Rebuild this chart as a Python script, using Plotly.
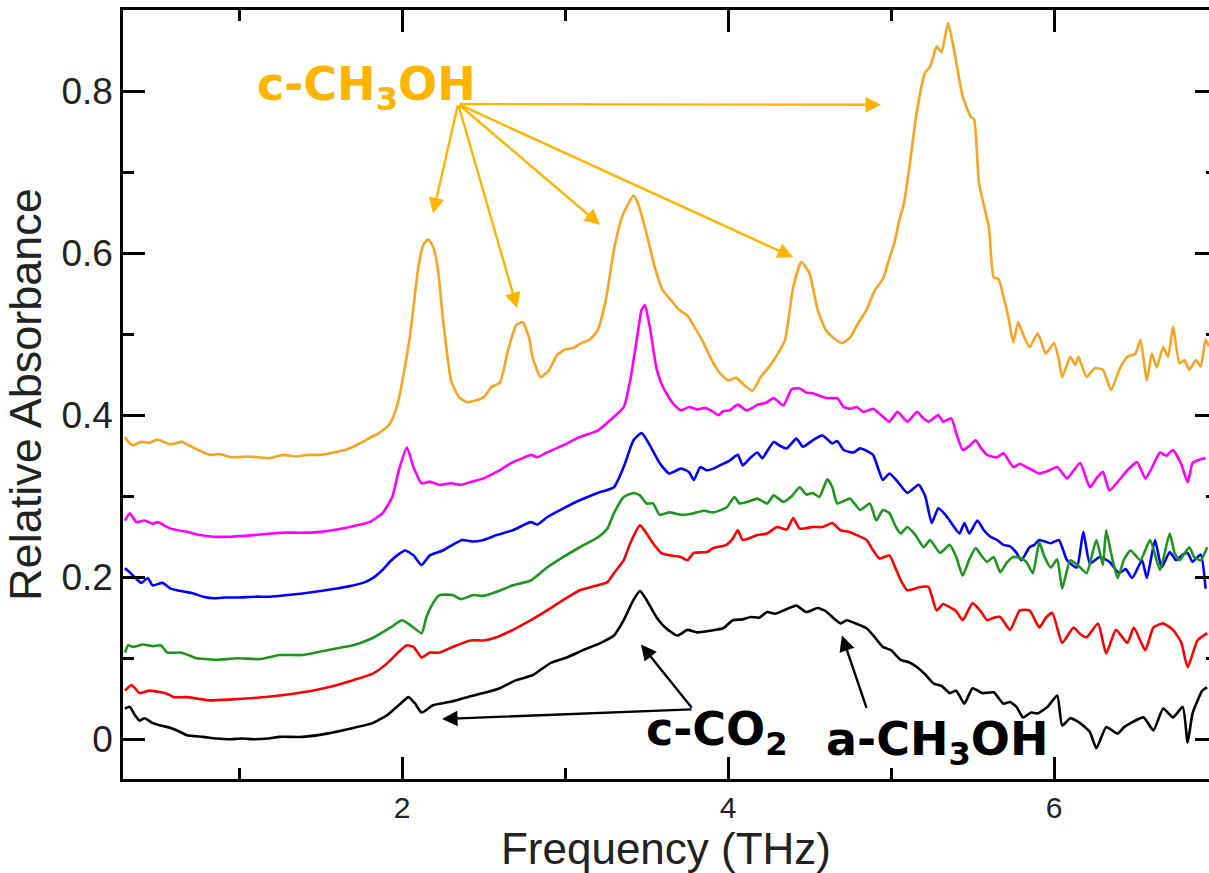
import plotly.graph_objects as go

# ---------------- data ----------------
orange_x = [0.30,0.33,0.35,0.40,0.45,0.50,0.55,0.58,0.65,0.70,0.75,0.82,0.88,0.96,1.05,1.12,1.19,1.27,1.35,1.42,
            1.50,1.58,1.65,1.70,1.75,1.80,1.85,1.88,1.92,1.95,1.98,2.00,2.05,2.10,2.13,2.16,2.19,2.22,2.25,2.28,
            2.30,2.35,2.40,2.45,2.50,2.55,2.60,2.65,2.70,2.74,2.78,2.80,2.85,2.90,2.95,3.00,3.05,3.10,3.15,3.20,
            3.25,3.30,3.35,3.42,3.45,3.50,3.55,3.60,3.65,3.70,3.75,3.80,3.85,3.90,3.95,4.00,4.05,4.10,4.15,4.20,
            4.25,4.30,4.35,4.40,4.45,4.50,4.55,4.60,4.65,4.70,4.75,4.80,4.85,4.90,4.95,5.00,5.02,5.05,5.08,5.11,
            5.16,5.21,5.24,5.28,5.31,5.35,5.39,5.44,5.49,5.51,5.54,5.60,5.63,5.66,5.69,5.72,5.75,5.78,5.80,5.85,
            5.90,5.95,6.00,6.03,6.05,6.10,6.13,6.15,6.20,6.25,6.30,6.35,6.40,6.45,6.50,6.53,6.57,6.60,6.63,6.67,
            6.70,6.73,6.77,6.80,6.83,6.87,6.90,6.93,6.95]
orange_y = [0.373,0.365,0.363,0.367,0.366,0.370,0.366,0.364,0.367,0.362,0.357,0.351,0.352,0.348,0.349,0.348,0.347,0.351,0.349,0.351,
            0.351,0.354,0.357,0.361,0.366,0.372,0.377,0.381,0.388,0.400,0.420,0.440,0.500,0.583,0.610,0.617,0.608,0.580,0.520,0.470,
            0.443,0.422,0.416,0.418,0.422,0.435,0.440,0.480,0.511,0.515,0.495,0.472,0.447,0.455,0.474,0.481,0.483,0.489,0.493,0.505,
            0.542,0.604,0.645,0.671,0.660,0.624,0.583,0.554,0.542,0.530,0.523,0.507,0.489,0.468,0.452,0.443,0.446,0.437,0.430,0.447,
            0.459,0.474,0.493,0.558,0.589,0.575,0.530,0.505,0.495,0.489,0.496,0.514,0.530,0.554,0.568,0.600,0.612,0.640,0.662,0.702,
            0.777,0.823,0.830,0.855,0.848,0.884,0.847,0.793,0.768,0.765,0.686,0.632,0.570,0.568,0.546,0.521,0.490,0.515,0.505,0.484,
            0.501,0.476,0.489,0.468,0.447,0.472,0.462,0.472,0.447,0.458,0.456,0.431,0.456,0.472,0.476,0.493,0.443,0.476,0.459,0.484,
            0.472,0.509,0.464,0.468,0.456,0.468,0.460,0.493,0.485]

magenta_x = [0.30,0.33,0.37,0.42,0.47,0.50,0.58,0.68,0.76,0.84,0.94,1.09,1.20,1.29,1.40,1.50,1.60,1.70,1.80,1.88,
             1.94,1.98,2.03,2.07,2.12,2.17,2.23,2.30,2.36,2.43,2.50,2.58,2.68,2.74,2.79,2.83,2.89,2.99,3.09,3.20,
             3.30,3.36,3.40,3.44,3.47,3.49,3.52,3.56,3.60,3.66,3.71,3.76,3.81,3.86,3.91,3.94,3.97,4.01,4.06,4.11,
             4.15,4.18,4.23,4.28,4.34,4.39,4.44,4.48,4.52,4.56,4.61,4.67,4.71,4.75,4.79,4.83,4.89,4.94,4.99,5.04,
             5.10,5.16,5.20,5.23,5.29,5.32,5.37,5.40,5.44,5.48,5.52,5.55,5.59,5.65,5.69,5.75,5.79,5.83,5.87,5.91,
             5.96,6.02,6.08,6.16,6.22,6.26,6.30,6.34,6.40,6.45,6.51,6.56,6.60,6.65,6.69,6.73,6.78,6.82,6.85,6.89,6.93]
magenta_y = [0.270,0.279,0.268,0.270,0.266,0.268,0.260,0.256,0.252,0.250,0.250,0.252,0.254,0.255,0.255,0.256,0.259,0.263,0.268,0.279,
             0.299,0.332,0.360,0.336,0.316,0.318,0.314,0.316,0.314,0.318,0.322,0.330,0.342,0.347,0.351,0.348,0.354,0.363,0.373,0.381,
             0.398,0.410,0.443,0.493,0.530,0.536,0.509,0.459,0.435,0.415,0.406,0.410,0.407,0.409,0.404,0.400,0.405,0.406,0.413,0.406,
             0.409,0.413,0.415,0.421,0.412,0.432,0.433,0.428,0.427,0.424,0.421,0.421,0.410,0.408,0.410,0.404,0.408,0.400,0.392,0.404,
             0.392,0.404,0.396,0.392,0.400,0.392,0.396,0.378,0.357,0.362,0.369,0.360,0.351,0.348,0.353,0.336,0.340,0.336,0.332,0.328,
             0.331,0.336,0.322,0.341,0.311,0.322,0.330,0.307,0.320,0.332,0.342,0.322,0.335,0.354,0.350,0.357,0.340,0.317,0.341,0.345,0.347]

blue_x = [0.30,0.33,0.35,0.40,0.44,0.47,0.53,0.58,0.62,0.67,0.72,0.78,0.85,0.92,0.99,1.10,1.19,1.30,1.39,1.50,
          1.60,1.68,1.76,1.82,1.88,1.93,1.97,2.02,2.07,2.12,2.17,2.25,2.31,2.37,2.43,2.50,2.58,2.68,2.79,2.83,
          2.89,2.99,3.09,3.20,3.30,3.36,3.42,3.47,3.52,3.58,3.64,3.71,3.76,3.79,3.83,3.87,3.91,3.96,4.01,4.06,
          4.09,4.13,4.18,4.21,4.28,4.32,4.36,4.42,4.46,4.52,4.58,4.64,4.67,4.71,4.77,4.81,4.85,4.89,4.95,4.99,
          5.04,5.10,5.17,5.21,5.25,5.29,5.33,5.36,5.42,5.45,5.48,5.53,5.57,5.61,5.65,5.69,5.73,5.77,5.80,5.85,
          5.88,5.91,5.98,6.03,6.08,6.14,6.18,6.22,6.28,6.34,6.40,6.44,6.48,6.54,6.57,6.62,6.66,6.71,6.75,6.79,
          6.82,6.85,6.90,6.93]
blue_y = [0.211,0.206,0.202,0.193,0.199,0.190,0.193,0.186,0.184,0.182,0.180,0.176,0.174,0.175,0.175,0.176,0.176,0.178,0.180,0.183,
          0.186,0.189,0.193,0.199,0.209,0.220,0.227,0.233,0.227,0.215,0.227,0.233,0.240,0.246,0.244,0.246,0.252,0.258,0.268,0.265,
          0.274,0.285,0.295,0.304,0.311,0.336,0.369,0.378,0.363,0.341,0.328,0.334,0.330,0.320,0.336,0.332,0.334,0.339,0.344,0.351,
          0.338,0.346,0.354,0.347,0.367,0.362,0.359,0.371,0.361,0.369,0.375,0.365,0.368,0.357,0.354,0.359,0.356,0.351,0.320,0.328,
          0.318,0.304,0.314,0.300,0.267,0.285,0.278,0.270,0.254,0.267,0.254,0.270,0.258,0.250,0.246,0.240,0.238,0.230,0.221,0.237,
          0.240,0.246,0.242,0.246,0.221,0.212,0.256,0.217,0.225,0.219,0.205,0.210,0.199,0.221,0.199,0.246,0.212,0.231,0.221,0.228,
          0.230,0.219,0.228,0.186]

green_x = [0.30,0.32,0.35,0.41,0.47,0.52,0.56,0.64,0.70,0.74,0.80,0.86,0.99,1.13,1.25,1.39,1.54,1.70,1.82,1.93,
           2.00,2.05,2.12,2.15,2.19,2.23,2.31,2.36,2.44,2.50,2.58,2.68,2.79,2.89,2.99,3.09,3.20,3.26,3.30,3.36,
           3.42,3.46,3.50,3.54,3.58,3.64,3.72,3.79,3.85,3.91,3.99,4.04,4.07,4.12,4.18,4.24,4.28,4.34,4.39,4.44,
           4.48,4.52,4.56,4.61,4.64,4.67,4.72,4.75,4.81,4.87,4.91,4.95,4.99,5.03,5.06,5.10,5.15,5.20,5.24,5.30,
           5.36,5.40,5.44,5.48,5.52,5.55,5.59,5.63,5.67,5.71,5.75,5.79,5.83,5.87,5.91,5.94,5.98,6.02,6.05,6.10,
           6.15,6.20,6.26,6.30,6.32,6.35,6.39,6.43,6.47,6.53,6.59,6.65,6.71,6.74,6.77,6.83,6.86,6.90,6.94]
green_y = [0.107,0.116,0.114,0.117,0.115,0.116,0.107,0.107,0.103,0.100,0.099,0.098,0.100,0.099,0.104,0.104,0.110,0.116,0.125,0.138,
           0.147,0.141,0.131,0.151,0.168,0.178,0.178,0.173,0.178,0.177,0.182,0.190,0.196,0.212,0.225,0.237,0.249,0.260,0.279,0.299,
           0.304,0.301,0.291,0.291,0.277,0.280,0.277,0.279,0.282,0.280,0.286,0.299,0.291,0.293,0.297,0.291,0.301,0.293,0.300,0.311,
           0.302,0.304,0.299,0.321,0.311,0.291,0.295,0.297,0.283,0.291,0.270,0.283,0.279,0.262,0.254,0.262,0.252,0.237,0.246,0.230,
           0.240,0.225,0.202,0.222,0.236,0.228,0.219,0.225,0.206,0.218,0.225,0.224,0.219,0.205,0.243,0.226,0.212,0.222,0.186,0.221,
           0.214,0.205,0.246,0.215,0.258,0.230,0.199,0.222,0.233,0.221,0.246,0.209,0.254,0.230,0.221,0.237,0.225,0.221,0.237]

red_x = [0.30,0.34,0.39,0.45,0.52,0.56,0.60,0.68,0.75,0.82,0.94,1.09,1.25,1.39,1.54,1.70,1.82,1.91,1.97,2.03,
         2.07,2.12,2.17,2.23,2.31,2.42,2.50,2.58,2.68,2.79,2.89,2.99,3.09,3.20,3.26,3.30,3.36,3.40,3.46,3.50,
         3.54,3.59,3.64,3.71,3.75,3.79,3.87,3.91,3.99,4.03,4.06,4.09,4.18,4.24,4.30,4.36,4.40,4.44,4.52,4.58,
         4.64,4.69,4.74,4.79,4.85,4.89,4.93,4.99,5.03,5.06,5.10,5.18,5.23,5.28,5.32,5.36,5.40,5.44,5.50,5.55,
         5.59,5.63,5.67,5.73,5.79,5.85,5.91,5.95,5.99,6.05,6.12,6.16,6.20,6.27,6.32,6.38,6.45,6.49,6.56,6.61,
         6.67,6.73,6.78,6.82,6.88,6.94]
red_y = [0.060,0.067,0.057,0.060,0.058,0.056,0.052,0.052,0.050,0.048,0.049,0.051,0.054,0.058,0.064,0.073,0.081,0.094,0.106,0.116,
         0.114,0.101,0.107,0.107,0.114,0.122,0.122,0.126,0.135,0.147,0.159,0.172,0.184,0.190,0.194,0.205,0.221,0.242,0.264,0.254,
         0.242,0.230,0.227,0.225,0.221,0.230,0.231,0.236,0.240,0.248,0.258,0.246,0.252,0.254,0.262,0.259,0.273,0.260,0.262,0.262,
         0.267,0.258,0.256,0.252,0.246,0.233,0.223,0.227,0.210,0.196,0.184,0.188,0.188,0.159,0.167,0.163,0.158,0.147,0.168,0.158,
         0.147,0.150,0.151,0.135,0.159,0.159,0.138,0.150,0.156,0.119,0.138,0.130,0.126,0.143,0.106,0.135,0.119,0.138,0.110,0.138,
         0.143,0.135,0.120,0.089,0.122,0.131]

black_x = [0.30,0.33,0.36,0.39,0.42,0.47,0.52,0.58,0.63,0.68,0.78,0.86,0.94,1.02,1.09,1.18,1.25,1.39,1.54,1.70,
           1.82,1.91,1.99,2.04,2.08,2.12,2.19,2.29,2.40,2.50,2.60,2.70,2.80,2.91,3.01,3.11,3.21,3.30,3.36,3.42,
           3.46,3.50,3.56,3.62,3.69,3.75,3.81,3.89,3.97,4.03,4.09,4.14,4.19,4.24,4.29,4.34,4.42,4.48,4.55,4.60,
           4.65,4.69,4.73,4.77,4.85,4.90,4.95,5.00,5.06,5.11,5.16,5.21,5.26,5.31,5.36,5.40,5.45,5.50,5.56,5.63,
           5.69,5.73,5.77,5.81,5.86,5.90,5.96,6.02,6.05,6.10,6.16,6.22,6.26,6.32,6.39,6.43,6.47,6.55,6.61,6.67,
           6.73,6.79,6.82,6.85,6.91,6.94]
black_y = [0.038,0.040,0.030,0.023,0.026,0.020,0.017,0.014,0.010,0.005,0.003,0.001,0.000,0.001,0.000,0.001,0.003,0.003,0.007,0.014,
           0.020,0.030,0.044,0.052,0.044,0.033,0.042,0.046,0.052,0.057,0.063,0.073,0.079,0.094,0.101,0.110,0.118,0.128,0.147,0.172,
           0.183,0.172,0.151,0.137,0.128,0.135,0.132,0.134,0.137,0.147,0.148,0.151,0.150,0.157,0.155,0.159,0.165,0.157,0.162,0.158,
           0.149,0.143,0.147,0.144,0.137,0.126,0.114,0.110,0.098,0.095,0.089,0.080,0.069,0.066,0.057,0.060,0.044,0.063,0.057,0.058,
           0.044,0.046,0.040,0.027,0.033,0.032,0.040,0.054,0.017,0.026,0.020,0.009,-0.011,0.015,0.007,0.015,0.020,0.027,0.011,0.038,
           0.027,0.040,-0.004,0.032,0.060,0.064]

series_names = ["orange", "magenta", "blue", "green", "red", "black"]
series_colors = ["#F7A420", "#FF00FF", "#0000FF", "#1E961E", "#FF0000", "#000000"]

# annotation labels and arrow targets (data coordinates)
ch3oh_label = "c-CH<sub>3</sub>OH"
ch3oh_label_pos = (1.78, 0.804)
ch3oh_arrow_tail = (2.344, 0.784)
ch3oh_arrow_heads_x = [2.19, 2.706, 3.215, 4.399, 4.939]
ch3oh_arrow_heads_y = [0.649, 0.532, 0.635, 0.595, 0.783]

co2_label = "c-CO<sub>2</sub>"
co2_label_pos = (3.93, 0.009)
co2_arrow_tail = (3.785, 0.037)
co2_arrow_heads_x = [3.466, 2.245]
co2_arrow_heads_y = [0.117, 0.025]

a_label = "a-CH<sub>3</sub>OH"
a_label_pos = (5.28, -0.004)
a_arrow_tail = (4.853, 0.037)
a_arrow_heads_x = [4.699]
a_arrow_heads_y = [0.128]

gold = "#FFB400"
tick_font = "Liberation Sans, Arial, Helvetica, sans-serif"
bold_font = "DejaVu Sans, Verdana, sans-serif"
text_grey = "#222222"

# ---------------- figure ----------------
fig = go.Figure()
all_x = [orange_x, magenta_x, blue_x, green_x, red_x, black_x]
all_y = [orange_y, magenta_y, blue_y, green_y, red_y, black_y]
for name, col, xs, ys in zip(series_names, series_colors, all_x, all_y):
    fig.add_trace(go.Scatter(x=xs, y=ys, mode="lines", name=name,
                             line=dict(color=col, width=2.6, shape="spline", smoothing=0.5),
                             showlegend=False))
# carrier for the right-hand tick axis
fig.add_trace(go.Scatter(x=[None], y=[None], yaxis="y2", showlegend=False, hoverinfo="skip"))

def label(text, pos, color):
    return dict(text=text, x=pos[0], y=pos[1], xref="x", yref="y", showarrow=False,
                font=dict(family=bold_font, size=46, color=color, weight="bold"),
                xanchor="center", yanchor="middle")

def arrow(hx, hy, tail, color):
    return dict(text="", x=hx, y=hy, ax=tail[0], ay=tail[1],
                xref="x", yref="y", axref="x", ayref="y", showarrow=True,
                arrowhead=2, arrowsize=1.3, arrowwidth=2.4, arrowcolor=color,
                standoff=0, startstandoff=0)

annotations = [label(ch3oh_label, ch3oh_label_pos, gold)]
annotations += [arrow(hx, hy, ch3oh_arrow_tail, gold) for hx, hy in zip(ch3oh_arrow_heads_x, ch3oh_arrow_heads_y)]
annotations.append(label(co2_label, co2_label_pos, "black"))
annotations += [arrow(hx, hy, co2_arrow_tail, "black") for hx, hy in zip(co2_arrow_heads_x, co2_arrow_heads_y)]
annotations.append(label(a_label, a_label_pos, "black"))
annotations += [arrow(hx, hy, a_arrow_tail, "black") for hx, hy in zip(a_arrow_heads_x, a_arrow_heads_y)]

x_range = [0.288, 6.951]
y_range = [-0.049, 0.9]

fig.update_layout(
    width=1209, height=873, autosize=False,
    margin=dict(l=123, r=0, t=10, b=94, pad=0),
    paper_bgcolor="white", plot_bgcolor="white",
    annotations=annotations,
    xaxis=dict(range=x_range, showgrid=False, zeroline=False,
               showline=True, linecolor="black", linewidth=2.5, mirror="ticks",
               ticks="inside", ticklen=22, tickwidth=2.5, tickcolor="black",
               tick0=0, dtick=2,
               minor=dict(ticks="inside", ticklen=11, tickwidth=2.5, tickcolor="black", tick0=0, dtick=1, showgrid=False),
               tickfont=dict(family=tick_font, size=30, color=text_grey),
               title=dict(text="Frequency (THz)", font=dict(family=tick_font, size=44, color=text_grey), standoff=16)),
    yaxis=dict(range=y_range, showgrid=False, zeroline=False,
               showline=True, linecolor="black", linewidth=2.5, mirror=False,
               ticks="inside", ticklen=22, tickwidth=2.5, tickcolor="black",
               tick0=0, dtick=0.2,
               minor=dict(ticks="inside", ticklen=11, tickwidth=2.5, tickcolor="black", tick0=0, dtick=0.1, showgrid=False),
               tickfont=dict(family=tick_font, size=37, color=text_grey),
               ticklabelstandoff=0,
               title=dict(text="Relative Absorbance", font=dict(family=tick_font, size=45, color=text_grey), standoff=12)),
    yaxis2=dict(range=y_range, overlaying="y", side="right", showgrid=False, zeroline=False,
                showline=False, showticklabels=False,
                ticks="inside", ticklen=14, tickwidth=2.5, tickcolor="black", tick0=0, dtick=0.2,
                minor=dict(ticks="inside", ticklen=3, tickwidth=2.5, tickcolor="black", tick0=0, dtick=0.1, showgrid=False)),
)

fig.write_html("out.html")
